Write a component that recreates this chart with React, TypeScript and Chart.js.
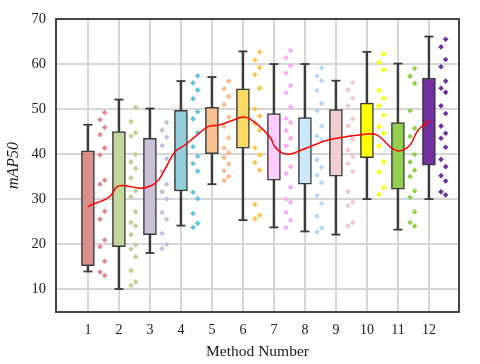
import React, { useEffect, useRef } from 'react';
import { Chart, registerables } from 'chart.js';

Chart.register(...registerables);

// ---- data ----
const methods = [1, 2, 3, 4, 5, 6, 7, 8, 9, 10, 11, 12];
const whiskerMax = [46.5, 52.1, 50.1, 56.2, 57.1, 62.8, 60.0, 60.0, 56.3, 62.7, 60.1, 66.1];
const q3 = [40.7, 45.0, 43.5, 49.7, 50.4, 54.5, 49.0, 48.1, 49.9, 51.3, 47.0, 56.9];
const q1 = [15.2, 19.4, 22.1, 31.8, 40.1, 41.3, 34.2, 33.3, 35.1, 39.2, 32.2, 37.5];
const whiskerMin = [13.9, 10.0, 18.0, 24.1, 33.3, 25.3, 23.7, 22.8, 22.1, 30.0, 23.2, 30.0];

const g1 = [49.2, 47.6, 45.9, 44.3, 41.3, 39.8, 34.2, 33.3, 27.3, 25.5, 20.9, 19.4, 16.2, 13.8, 13.0];
const g2 = [50.4, 47.2, 44.7, 44.0, 39.9, 38.2, 36.8, 34.7, 31.8, 30.5, 27.2, 24.8, 24.0, 22.1, 19.8, 18.9, 17.2, 14.1, 11.6, 10.8];
const g3 = [47.0, 45.3, 43.7, 41.9, 39.0, 36.1, 33.3, 31.6, 30.0, 27.0, 25.5, 22.4, 19.9, 19.0];
const g4 = [57.4, 55.8, 54.2, 52.3, 49.4, 47.8, 44.7, 41.6, 39.5, 37.9, 36.2, 31.5, 30.1, 26.8, 24.6, 23.7];
const g5 = [56.2, 54.5, 52.8, 51.0, 48.2, 46.1, 43.6, 41.3, 40.3, 39.2, 37.8, 36.3, 35.0, 34.1];
const g6 = [62.6, 60.9, 59.2, 57.6, 54.6, 50.0, 48.4, 46.8, 45.3, 41.4, 39.8, 38.1, 36.4, 28.8, 26.4, 25.6];
const g7 = [63.0, 61.4, 59.6, 58.0, 55.2, 53.6, 50.5, 47.9, 47.0, 45.2, 43.5, 41.8, 37.2, 35.7, 32.6, 30.0, 29.3, 27.0, 25.3, 23.7];
const g8 = [59.2, 57.3, 56.3, 54.1, 51.2, 49.6, 46.2, 44.0, 43.1, 38.7, 37.0, 35.3, 33.6, 30.8, 29.0, 26.2, 23.6, 22.7];
const g9 = [55.9, 54.2, 52.4, 50.7, 47.8, 46.3, 43.3, 40.9, 39.4, 37.9, 36.1, 31.6, 29.3, 28.5, 24.8, 24.0];
const g10 = [62.2, 60.4, 58.7, 54.1, 52.4, 50.7, 48.6, 46.1, 44.6, 41.8, 38.3, 36.0, 32.6, 31.0];
const g11 = [59.0, 57.3, 55.7, 49.6, 45.7, 43.9, 39.9, 38.2, 36.4, 35.0, 31.8, 30.4, 27.2, 24.8, 24.0];
const g12 = [65.5, 63.8, 61.0, 59.4, 56.2, 54.6, 53.7, 50.7, 49.0, 46.2, 44.6, 43.5, 41.5, 38.8, 37.2, 35.2, 34.0, 31.6, 30.9];

// red trend curve
const trendX = [1.0, 1.17, 1.33, 1.55, 1.71, 1.82, 1.93, 2.09, 2.41, 2.73, 3.05, 3.27, 3.46, 3.81, 4.13, 4.45, 4.88, 5.2, 5.64, 6.04, 6.39, 6.71, 6.9, 7.03, 7.25, 7.52, 7.89, 8.22, 8.75, 9.29, 9.94, 10.26, 10.47, 10.8, 11.06, 11.39, 11.65, 12.03];
const trendY = [28.3, 28.9, 29.3, 29.9, 30.6, 31.6, 32.7, 33.0, 32.7, 32.4, 33.0, 34.2, 36.3, 40.5, 42.0, 43.8, 46.1, 46.4, 47.4, 48.2, 47.0, 45.0, 43.5, 41.6, 40.3, 40.0, 40.9, 41.8, 43.1, 43.8, 44.4, 44.4, 43.5, 41.3, 40.7, 42.0, 45.3, 47.4];

const yTicks = [10, 20, 30, 40, 50, 60, 70];
const xTicks = methods;

const boxColors = ['#d8928c', '#c3d69b', '#ccc1da', '#92cddc', '#fac090', '#ffd966', '#ffccff', '#cce8fb', '#f2cfce', '#ffff00', '#92d050', '#7030a0'];
const pointColors = ['#e08a88', '#b8d38c', '#c9bbdc', '#5ec4e0', '#fbbb86', '#ffc445', '#ffa6ff', '#b0dbf6', '#f4c8c8', '#ffff00', '#8fd04a', '#7030a0'];

const SERIF = "'Liberation Serif', 'Times New Roman', serif";
const EDGE = '#3a3a3a';

const framePlugin = {
  id: 'frame',
  beforeDatasetsDraw(chart: any) {
    const { ctx, chartArea } = chart;
    const { left, top, right, bottom } = chartArea;
    ctx.save();
    ctx.strokeStyle = '#454545';
    ctx.lineWidth = 2;
    ctx.strokeRect(left, top, right - left, bottom - top);
    ctx.restore();
  },
};

export default function App() {
  const ref = useRef<HTMLCanvasElement>(null);

  useEffect(() => {
    const groups = [g1, g2, g3, g4, g5, g6, g7, g8, g9, g10, g11, g12];
    const datasets: any[] = [];

    datasets.push({
      type: 'line',
      data: trendX.map((x, i) => ({ x, y: trendY[i] })),
      borderColor: '#ff0000',
      borderWidth: 1.5,
      pointRadius: 0,
      tension: 0.4,
      fill: false,
      order: 0,
    });

    datasets.push({
      type: 'scatter',
      data: methods.flatMap((m, i) => [
        { x: m, y: whiskerMax[i] },
        { x: m, y: whiskerMin[i] },
      ]),
      showLine: false,
      pointStyle: 'line',
      pointRadius: 4.5,
      pointBorderColor: EDGE,
      pointBorderWidth: 1.8,
      pointBackgroundColor: EDGE,
      order: 1,
    });

    datasets.push({
      type: 'bar',
      data: methods.map((m, i) => ({ x: m, y: [q1[i], q3[i]] })),
      backgroundColor: boxColors,
      borderColor: EDGE,
      borderWidth: 1.5,
      borderSkipped: false,
      barThickness: 13,
      grouped: false,
      order: 2,
    });

    datasets.push({
      type: 'bar',
      data: methods.map((m, i) => ({ x: m, y: [whiskerMin[i], whiskerMax[i]] })),
      backgroundColor: EDGE,
      borderWidth: 0,
      barThickness: 1.8,
      grouped: false,
      order: 3,
    });

    groups.forEach((g, gi) => {
      datasets.push({
        type: 'scatter',
        data: g.map((v, i) => ({ x: methods[gi] + (i % 2 === 0 ? 0.54 : 0.39), y: v })),
        showLine: false,
        pointStyle: 'rectRot',
        pointRadius: 2.8,
        pointBackgroundColor: pointColors[gi],
        pointBorderWidth: 0,
        order: 4,
      });
    });

    const chart = new Chart(ref.current!, {
      type: 'bar',
      data: { datasets },
      plugins: [framePlugin],
      options: {
        responsive: false,
        animation: false,
        events: [],
        layout: { padding: { left: 0, right: 21, top: 19, bottom: 0 } },
        plugins: { legend: { display: false }, tooltip: { enabled: false } },
        scales: {
          x: {
            type: 'linear',
            min: -0.03,
            max: 12.97,
            offset: false,
            afterBuildTicks: (s: any) => {
              s.ticks = xTicks.map((v) => ({ value: v }));
            },
            afterFit: (s: any) => {
              s.height = 52;
            },
            grid: { color: '#d6d6d6', lineWidth: 2, drawTicks: false, offset: false },
            border: { display: false },
            ticks: {
              padding: 10,
              color: '#1a1a1a',
              font: { family: SERIF, size: 14 },
              maxRotation: 0,
              autoSkip: false,
            },
            title: {
              display: true,
              text: 'Method Number',
              color: '#1a1a1a',
              font: { family: SERIF, size: 15.5 },
              padding: { top: 0, bottom: 3 },
            },
          },
          y: {
            type: 'linear',
            min: 4.9,
            max: 70,
            afterBuildTicks: (s: any) => {
              s.ticks = yTicks.map((v) => ({ value: v }));
            },
            afterFit: (s: any) => {
              s.width = 56;
            },
            grid: { color: '#d6d6d6', lineWidth: 2, drawTicks: false },
            border: { display: false },
            ticks: {
              padding: 10,
              color: '#1a1a1a',
              font: { family: SERIF, size: 14.5 },
            },
            title: {
              display: true,
              text: 'mAP50',
              color: '#1a1a1a',
              font: { family: SERIF, size: 16, style: 'italic' },
              padding: { top: 4, bottom: 0 },
            },
          },
        },
      } as any,
    });

    return () => chart.destroy();
  }, []);

  return (
    <div style={{ position: 'absolute', left: 0, top: 0, width: 480, height: 364, background: '#fff' }}>
      <canvas ref={ref} width={480} height={364} style={{ display: 'block' }} />
    </div>
  );
}
